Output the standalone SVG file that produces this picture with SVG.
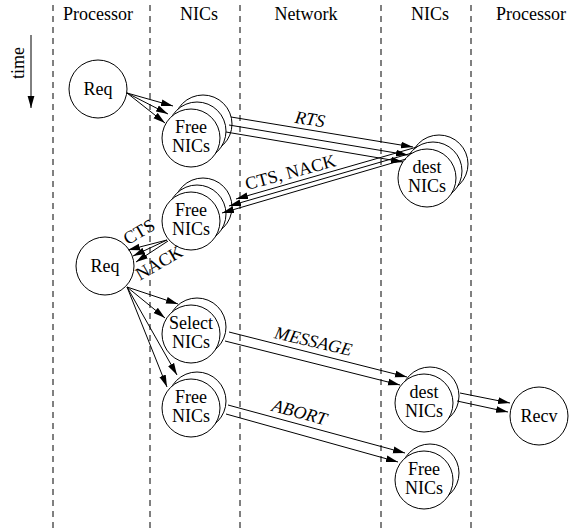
<svg xmlns="http://www.w3.org/2000/svg" width="581" height="529" viewBox="0 0 581 529">
<defs>
<marker id="ah" markerUnits="userSpaceOnUse" markerWidth="12" markerHeight="8" refX="12" refY="4" orient="auto"><path d="M0,0.6 L12,4 L0,7.4 z" fill="#000"/></marker>
<style>
.lane{stroke:#000;stroke-width:1;stroke-dasharray:6 5;fill:none}
circle{fill:#fff;stroke:#000;stroke-width:1}
text{font-family:"Liberation Serif","Times New Roman",serif;font-size:18px;fill:#000;text-anchor:middle}
.it{font-style:italic}
.c line{stroke:#000;stroke-width:1;fill:none;marker-end:url(#ah)}
</style>
</defs>
<rect width="581" height="529" fill="#fff"/>
<g id="lanes">
<line class="lane" x1="53" y1="5" x2="53" y2="529"/>
<line class="lane" x1="150" y1="5" x2="150" y2="529"/>
<line class="lane" x1="240" y1="5" x2="240" y2="529"/>
<line class="lane" x1="381" y1="5" x2="381" y2="529"/>
<line class="lane" x1="471" y1="5" x2="471" y2="529"/>
<text x="98" y="20">Processor</text>
<text x="199" y="20">NICs</text>
<text x="306" y="20">Network</text>
<text x="430" y="20">NICs</text>
<text x="531" y="20">Processor</text>
</g>
<g id="time">
<text transform="translate(24,63) rotate(-90)">time</text>
<g class="c"><line x1="31" y1="35" x2="31" y2="108"/></g>
</g>
<g id="req1"><circle cx="98" cy="89" r="29"/><text x="98" y="95">Req</text></g>
<g id="free1"><circle cx="203" cy="124" r="29"/><circle cx="197" cy="131" r="29"/><circle cx="191" cy="138" r="29"/><text x="191" y="133">Free</text><text x="191" y="152">NICs</text></g>
<g id="dest1"><circle cx="439" cy="164" r="29"/><circle cx="433" cy="171" r="29"/><circle cx="427" cy="178" r="29"/><text x="427" y="173">dest</text><text x="427" y="192">NICs</text></g>
<g id="free2"><circle cx="203" cy="207" r="29"/><circle cx="197" cy="214" r="29"/><circle cx="191" cy="221" r="29"/><text x="191" y="216">Free</text><text x="191" y="235">NICs</text></g>
<g id="req2"><circle cx="105" cy="266" r="29"/><text x="105" y="272">Req</text></g>
<g id="select"><circle cx="197" cy="327" r="29"/><circle cx="191" cy="334" r="29"/><text x="191" y="329">Select</text><text x="191" y="348">NICs</text></g>
<g id="free3"><circle cx="197" cy="401" r="29"/><circle cx="191" cy="408" r="29"/><text x="191" y="403">Free</text><text x="191" y="422">NICs</text></g>
<g id="dest2"><circle cx="430" cy="396" r="29"/><circle cx="424" cy="403" r="29"/><text x="424" y="398">dest</text><text x="424" y="417">NICs</text></g>
<g id="recv"><circle cx="539" cy="416" r="29"/><text x="539" y="422">Recv</text></g>
<g id="free4"><circle cx="430" cy="473" r="29"/><circle cx="424" cy="480" r="29"/><text x="424" y="475">Free</text><text x="424" y="494">NICs</text></g>
<g id="connectors" class="c">
<line x1="127" y1="93" x2="173" y2="106"/>
<line x1="127" y1="93" x2="168" y2="114"/>
<line x1="127" y1="93" x2="165" y2="123"/>
<line x1="231" y1="117" x2="413" y2="147"/>
<line x1="229" y1="125" x2="408" y2="155"/>
<line x1="226" y1="132" x2="403" y2="162"/>
<line x1="417" y1="147" x2="236" y2="199"/>
<line x1="412" y1="153" x2="229" y2="206"/>
<line x1="406" y1="159" x2="222" y2="213"/>
<line x1="167" y1="240" x2="128" y2="250"/>
<line x1="167" y1="240" x2="133" y2="256"/>
<line x1="168" y1="241" x2="136" y2="262"/>
<line x1="127" y1="287" x2="178" y2="304"/>
<line x1="127" y1="287" x2="165" y2="318"/>
<line x1="127" y1="287" x2="177" y2="375"/>
<line x1="127" y1="287" x2="167" y2="387"/>
<line x1="229" y1="332" x2="407" y2="377"/>
<line x1="225" y1="341" x2="400" y2="385"/>
<line x1="460" y1="393" x2="510" y2="403"/>
<line x1="457" y1="401" x2="508" y2="412"/>
<line x1="228" y1="405" x2="405" y2="453"/>
<line x1="226" y1="414" x2="398" y2="462"/>
</g>
<g id="labels">
<text class="it" transform="translate(309,125) rotate(9)">RTS</text>
<text transform="translate(292,178) rotate(-15)">CTS, NACK</text>
<text transform="translate(142,237) rotate(-30)">CTS</text>
<text transform="translate(162,268) rotate(-30)">NACK</text>
<text class="it" transform="translate(312,347) rotate(13)">MESSAGE</text>
<text class="it" transform="translate(298,418) rotate(15)">ABORT</text>
</g>
</svg>
